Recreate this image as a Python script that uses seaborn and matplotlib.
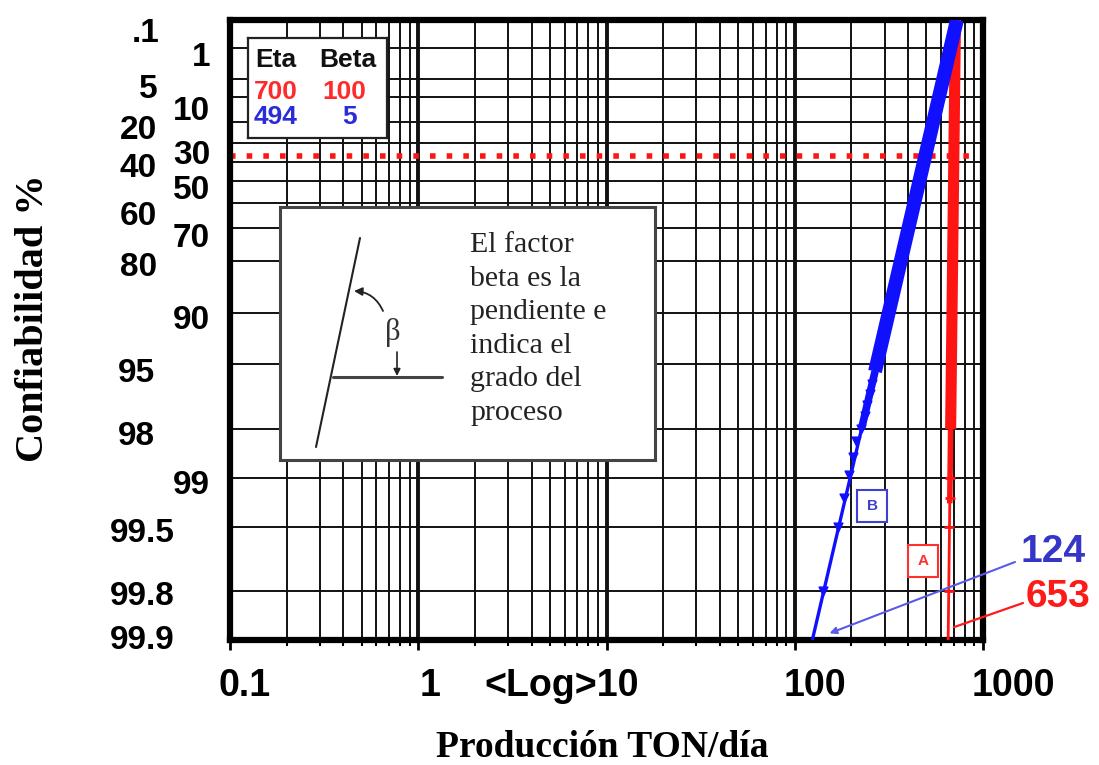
import numpy as np
import matplotlib
matplotlib.use('Agg')
import matplotlib.pyplot as plt
import matplotlib.transforms as mtransforms
from matplotlib.ticker import LogLocator, NullLocator, NullFormatter
import seaborn as sns

# Reliability axis (%), top to bottom, and production axis (TON/dia)
y_ticks = [0.1, 1, 5, 10, 20, 30, 40, 50, 60, 70, 80, 90, 95, 98, 99, 99.5, 99.8, 99.9]
y_tick_labels = ['.1', '1', '5', '10', '20', '30', '40', '50', '60', '70', '80', '90',
                 '95', '98', '99', '99.5', '99.8', '99.9']
x_ticks = [0.1, 1, 10, 100, 1000]
x_tick_labels = ['0.1', '1', '<Log>10', '100', '1000']

# Weibull parameters of the two fits (A = red, B = blue)
eta = [700, 494]
beta = [100, 5]

# fitted lines, end points read at 99.9 % and 0.1 %
line_a_x = [653, 714]
line_a_r = [99.9, 0.1]
line_b_x = [124, 727]
line_b_r = [99.9, 0.1]

# dense part of the plotted points (seen as a wide band)
band_a_x = [673, 714]
band_a_r = [98.0, 0.1]
band_a2_x = [666, 673]
band_a2_r = [99.3, 98.0]
band_b_x = [267, 727]
band_b_r = [95.5, 0.1]
band_b2_x = [226, 267]
band_b2_r = [98.0, 95.5]

# single plotted points in the lower tail
points_a_x = [657, 663, 666, 668]
points_a_r = [99.8, 99.5, 99.25, 99.0]
points_b_x = [142, 169, 183, 195, 203, 212, 226, 235, 242, 251, 258]
points_b_r = [99.8, 99.5, 99.25, 98.95, 98.65, 98.3, 98.0, 97.6, 97.2, 96.7, 96.2]

# characteristic life level (R = 36.8 %)
char_r = 36.8

# values read at 99.9 %
x_at_999 = ['124', '653']

RED = '#ff1414'
BLUE = '#1010ff'
W, H = 1099, 765


def fx(px):
    return px / W


def fy(py):
    return 1 - py / H


def weib_fwd(r):
    r = np.clip(np.asarray(r, dtype=float), 1e-6, 99.99999)
    return -np.log(-np.log(r / 100.0))


def weib_inv(y):
    return 100.0 * np.exp(-np.exp(-np.asarray(y, dtype=float)))


sns.set_theme(style='white')
plt.rcParams['font.family'] = ['Liberation Sans', 'DejaVu Sans']

fig = plt.figure(figsize=(10.99, 7.65), dpi=100)
ax = fig.add_axes([fx(230), fy(640), (983 - 230) / W, 620 / H])
ax.set_xscale('log')
ax.set_yscale('function', functions=(weib_fwd, weib_inv))

# red line A
sns.lineplot(x=line_a_x, y=line_a_r, ax=ax, color=RED, lw=2.0, sort=False, zorder=3)
sns.lineplot(x=band_a_x, y=band_a_r, ax=ax, color=RED, lw=8, sort=False, zorder=3,
             solid_capstyle='butt')
sns.lineplot(x=band_a2_x, y=band_a2_r, ax=ax, color=RED, lw=4, sort=False, zorder=3,
             solid_capstyle='butt')
sns.scatterplot(x=points_a_x, y=points_a_r, ax=ax, color=RED, marker='_', s=60,
                linewidth=2, zorder=3)

# blue line B
sns.lineplot(x=line_b_x, y=line_b_r, ax=ax, color=BLUE, lw=2.4, sort=False, zorder=4)
sns.lineplot(x=band_b_x, y=band_b_r, ax=ax, color=BLUE, lw=10, sort=False, zorder=4,
             solid_capstyle='butt')
sns.lineplot(x=band_b2_x, y=band_b2_r, ax=ax, color=BLUE, lw=5.5, sort=False, zorder=4,
             solid_capstyle='butt')
sns.scatterplot(x=points_b_x, y=points_b_r, ax=ax, color=BLUE, marker='v', s=40,
                edgecolor=BLUE, linewidth=1, zorder=4)

ax.axhline(char_r, xmin=0, xmax=0.99, color=RED, lw=4, ls=(0, (1, 2)), zorder=2)

ax.set_xlim(0.1, 1000)
ax.set_ylim(99.9, 0.1)

# grid like Weibull paper
ax.set_axisbelow(True)
ax.xaxis.set_minor_locator(LogLocator(base=10, subs=np.arange(2, 10), numticks=20))
ax.xaxis.set_minor_formatter(NullFormatter())
ax.grid(True, which='major', axis='x', color='#111111', lw=2.8)
ax.grid(True, which='minor', axis='x', color='#111111', lw=1.4)
ax.set_yticks(y_ticks)
ax.set_yticklabels(y_tick_labels)
ax.yaxis.set_minor_locator(NullLocator())
ax.grid(True, which='major', axis='y', color='#111111', lw=1.4)
ax.set_xticks(x_ticks)
ax.set_xticklabels(x_tick_labels)

for s in ax.spines.values():
    s.set_visible(True)
    s.set_color('black')
    s.set_linewidth(4.5)

ax.tick_params(axis='x', which='major', direction='out', length=7, width=2,
               pad=13, labelsize=27, bottom=True, top=False, colors='black')
ax.tick_params(axis='x', which='minor', direction='out', length=4, width=1.5,
               bottom=True, top=False, colors='black')
ax.tick_params(axis='y', which='both', length=0, pad=14.4, labelsize=24, colors='black')

# staggered y labels, shifted in pixels
y_dx = [-50, 0, -52, 0, -53, 0, -53, 0, -53, 0, -53, 0, -55, -55, 0, -35, -35, -35]
y_dy = [10, 5.5, 7, 11, 5, 9.5, 3.5, 6, 10, 7, 3, 4, 6, 4, 4, 3, 2, -3]
for lab, dx, dy in zip(ax.get_yticklabels(), y_dx, y_dy):
    lab.set_fontweight('bold')
    lab.set_transform(lab.get_transform() +
                      mtransforms.ScaledTranslation(dx / 100, -dy / 100, fig.dpi_scale_trans))

x_dx = [15, 12, 32, 20, 30]
for i, (lab, dx) in enumerate(zip(ax.get_xticklabels(), x_dx)):
    lab.set_fontweight('bold')
    if i == 2:
        lab.set_horizontalalignment('right')
    lab.set_transform(lab.get_transform() +
                      mtransforms.ScaledTranslation(dx / 100, 0, fig.dpi_scale_trans))

ax.set_xlabel('Producción TON/día', family=['Liberation Serif', 'DejaVu Serif'],
              fontweight='bold', fontsize=27, color='black')
ax.set_ylabel('Confiabilidad %', family=['Liberation Serif', 'DejaVu Serif'],
              fontweight='bold', fontsize=29, color='black')
ax.xaxis.set_label_coords(0.494, -0.145)
ax.yaxis.set_label_coords(-0.236, 0.519)

# Eta / Beta table
leg = fig.add_axes([fx(248), fy(138), 139 / W, 100 / H])
leg.set_xlim(248, 387)
leg.set_ylim(138, 38)
leg.set_xticks([])
leg.set_yticks([])
leg.set_facecolor('white')
for s in leg.spines.values():
    s.set_color('#222222')
    s.set_linewidth(1.6)
leg.text(276, 60, 'Eta', ha='center', va='center', fontsize=19, fontweight='bold', color='#111111')
leg.text(348, 60, 'Beta', ha='center', va='center', fontsize=19, fontweight='bold', color='#111111')
leg.text(276, 92, str(eta[0]), ha='center', va='center', fontsize=19, fontweight='bold', color='#ff2a2a')
leg.text(344, 92, str(beta[0]), ha='center', va='center', fontsize=19, fontweight='bold', color='#ff2a2a')
leg.text(276, 117, str(eta[1]), ha='center', va='center', fontsize=19, fontweight='bold', color='#2b2bd8')
leg.text(350, 117, str(beta[1]), ha='center', va='center', fontsize=19, fontweight='bold', color='#2b2bd8')

# beta explanation box
ins = fig.add_axes([fx(280), fy(460), 375 / W, 253 / H])
ins.set_xlim(280, 655)
ins.set_ylim(460, 207)
ins.set_xticks([])
ins.set_yticks([])
ins.set_facecolor('white')
for s in ins.spines.values():
    s.set_color('#444444')
    s.set_linewidth(2.2)
ins.plot([316, 360], [447, 238], color='#222222', lw=1.5)
ins.plot([333, 442], [377, 377], color='#444444', lw=2.2)
ins.annotate('', xy=(354, 291), xytext=(383, 311),
             arrowprops=dict(arrowstyle='-|>', connectionstyle='arc3,rad=0.3',
                             color='#222222', lw=1.3, mutation_scale=12,
                             shrinkA=0, shrinkB=0))
ins.text(393, 333, 'β', family=['Liberation Serif', 'DejaVu Serif'], fontsize=22,
         ha='center', va='center', color='#333333')
ins.annotate('', xy=(397, 376), xytext=(397, 352),
             arrowprops=dict(arrowstyle='-|>', color='#222222', lw=1.2,
                             mutation_scale=10, shrinkA=0, shrinkB=0))
ins.text(470, 232, 'El factor\nbeta es la\npendiente e\nindica el\ngrado del\nproceso',
         family=['Liberation Serif', 'DejaVu Serif'], fontsize=21.5, ha='left', va='top',
         linespacing=1.38, color='#222222')

# curve tags
fig.text(fx(872), fy(506), 'B', ha='center', va='center', fontsize=11, fontweight='bold',
         color='#4040d0', bbox=dict(boxstyle='square,pad=0.6', fc='white', ec='#4040d0', lw=1.5))
fig.text(fx(923), fy(561), 'A', ha='center', va='center', fontsize=11, fontweight='bold',
         color='#ff3030', bbox=dict(boxstyle='square,pad=0.6', fc='white', ec='#ff3030', lw=1.5))

# values at 99.9 %
fig.text(fx(1053), fy(552), x_at_999[0], ha='center', va='center', fontsize=28,
         fontweight='bold', color='#3535c8')
fig.text(fx(1058), fy(597), x_at_999[1], ha='center', va='center', fontsize=28,
         fontweight='bold', color='#ff1a1a')
ax.annotate('', xy=(153, 99.89), xycoords='data', xytext=(fx(1015), fy(562)),
            textcoords='figure fraction', annotation_clip=False,
            arrowprops=dict(arrowstyle='-|>', color='#5a5ae6', lw=1.5, mutation_scale=10,
                            shrinkA=0, shrinkB=0))
ax.annotate('', xy=(700, 99.88), xycoords='data', xytext=(fx(1023), fy(603)),
            textcoords='figure fraction', annotation_clip=False,
            arrowprops=dict(arrowstyle='-', color='#ff1a1a', lw=1.6, shrinkA=0, shrinkB=0))

fig.savefig('out.png', dpi=100)
